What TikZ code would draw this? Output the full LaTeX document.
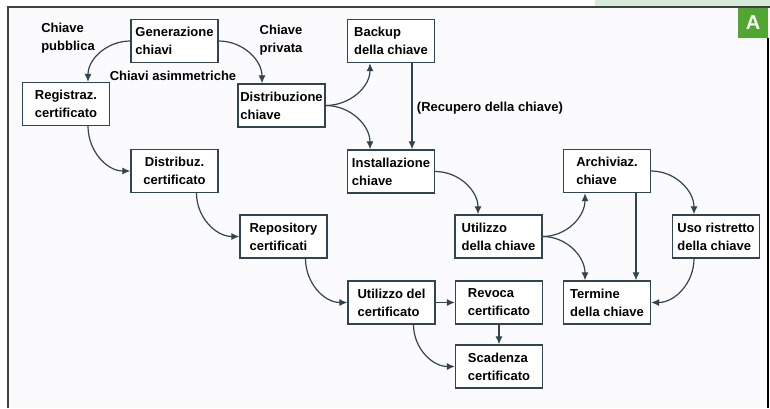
\documentclass[tikz,border=0pt]{standalone}
\usepackage{fontspec}
\setmainfont{Liberation Sans}
\usetikzlibrary{arrows.meta}

\definecolor{linec}{RGB}{50,68,78}
\definecolor{tagc}{RGB}{80,166,48}
\definecolor{barc}{RGB}{214,236,216}
\definecolor{paper}{RGB}{251,251,253}

\begin{document}
\begin{tikzpicture}[x=1pt,y=-1pt,
    box/.style={draw=linec,line width=1.3pt,fill=white,minimum width=87pt,minimum height=43pt,
      align=left,font=\bfseries\fontsize{13}{18}\selectfont,inner sep=2pt},
    lab/.style={align=left,text=black,font=\bfseries\fontsize{13}{18}\selectfont},
    flow/.style={-{Latex[length=8pt,width=7pt]},line width=1.2pt,color=linec}]
    \useasboundingbox (0,0) rectangle (770,408);

    % frame and tag
    \fill [barc] (595,0) rectangle (770,7);
    \fill [paper] (8,7) rectangle (768,408);
    \draw [line width=1.2pt,color=black!75] (8,408) -- (8,7) -- (770,7);
    \draw [line width=1.4pt] (768,38) -- (768,408);
    \node [fill=tagc,minimum size=30pt,inner sep=0pt,text=white,
      font=\bfseries\fontsize{20}{20}\selectfont] (tag) at (753,23) {A};

    % key side
    \node [box] (gen) at (174.5,41) {Generazione\\chiavi};
    \node [box] (distr) at (281.5,105.5) {Distribuzione\\chiave};
    \node [box] (backup) at (391,41) {Backup\\della chiave};
    \node [box] (inst) at (391,171.5) {Installazione\\chiave};
    \node [box] (uchiave) at (498.5,236.5) {Utilizzo\\della chiave};
    \node [box] (arch) at (607,171) {Archiviaz.\\chiave};
    \node [box] (uso) at (716,236.5) {Uso ristretto\\della chiave};
    \node [box] (termine) at (607,302.5) {Termine\\della chiave};

    % certificate side
    \node [box,align=center] (reg) at (66,104) {Registraz.\\certificato};
    \node [box,align=center] (dcert) at (174.5,171) {Distribuz.\\certificato};
    \node [box] (repo) at (283.5,236.5) {Repository\\certificati};
    \node [box] (ucert) at (391.5,302.5) {Utilizzo del\\certificato};
    \node [box] (revoca) at (499,302.5) {Revoca\\certificato};
    \node [box] (scad) at (499,366.5) {Scadenza\\certificato};

    \node [lab] (pub) at (68,38) {Chiave\\pubblica};
    \node [lab] (priv) at (281,40) {Chiave\\privata};
    \node [lab] (asim) at (173,76) {Chiavi asimmetriche};

    \draw [flow] (gen.west) to[out=180,in=90] ([xshift=22pt]reg.north);
    \draw [flow] (gen.east) to[out=0,in=90] ([xshift=-19.5pt]distr.north);
    \draw [flow] ([xshift=22pt]reg.south) to[out=-90,in=180] (dcert.west);
    \draw [flow] ([xshift=22pt]dcert.south) to[out=-90,in=180] (repo.west);
    \draw [flow] ([xshift=22pt]repo.south) to[out=-90,in=180] (ucert.west);
    \draw [flow] (ucert.east) -- (revoca.west);
    \draw [flow] (revoca.south) -- (scad.north);
    \draw [flow] ([xshift=22pt]ucert.south) to[out=-90,in=180] (scad.west);

    \draw [flow] (distr.east) to[out=0,in=-90] ([xshift=-21pt]backup.south);
    \draw [flow] (distr.east) to[out=0,in=90] ([xshift=-21pt]inst.north);
    \draw [flow] ([xshift=21pt]backup.south) -- node[lab,right,xshift=1pt,yshift=-2pt] {(Recupero della chiave)}
      ([xshift=21pt]inst.north);
    \draw [flow] (inst.east) to[out=0,in=90] ([xshift=-20.5pt]uchiave.north);
    \draw [flow] (uchiave.east) to[out=0,in=-90] ([xshift=-22pt]arch.south);
    \draw [flow] (uchiave.east) to[out=0,in=90] ([xshift=-22pt]termine.north);
    \draw [flow] ([xshift=29pt]arch.south) -- ([xshift=29pt]termine.north);
    \draw [flow] (arch.east) to[out=0,in=90] ([xshift=-22pt]uso.north);
    \draw [flow] ([xshift=-22pt]uso.south) to[out=-90,in=0] (termine.east);
  \end{tikzpicture}
\end{document}
